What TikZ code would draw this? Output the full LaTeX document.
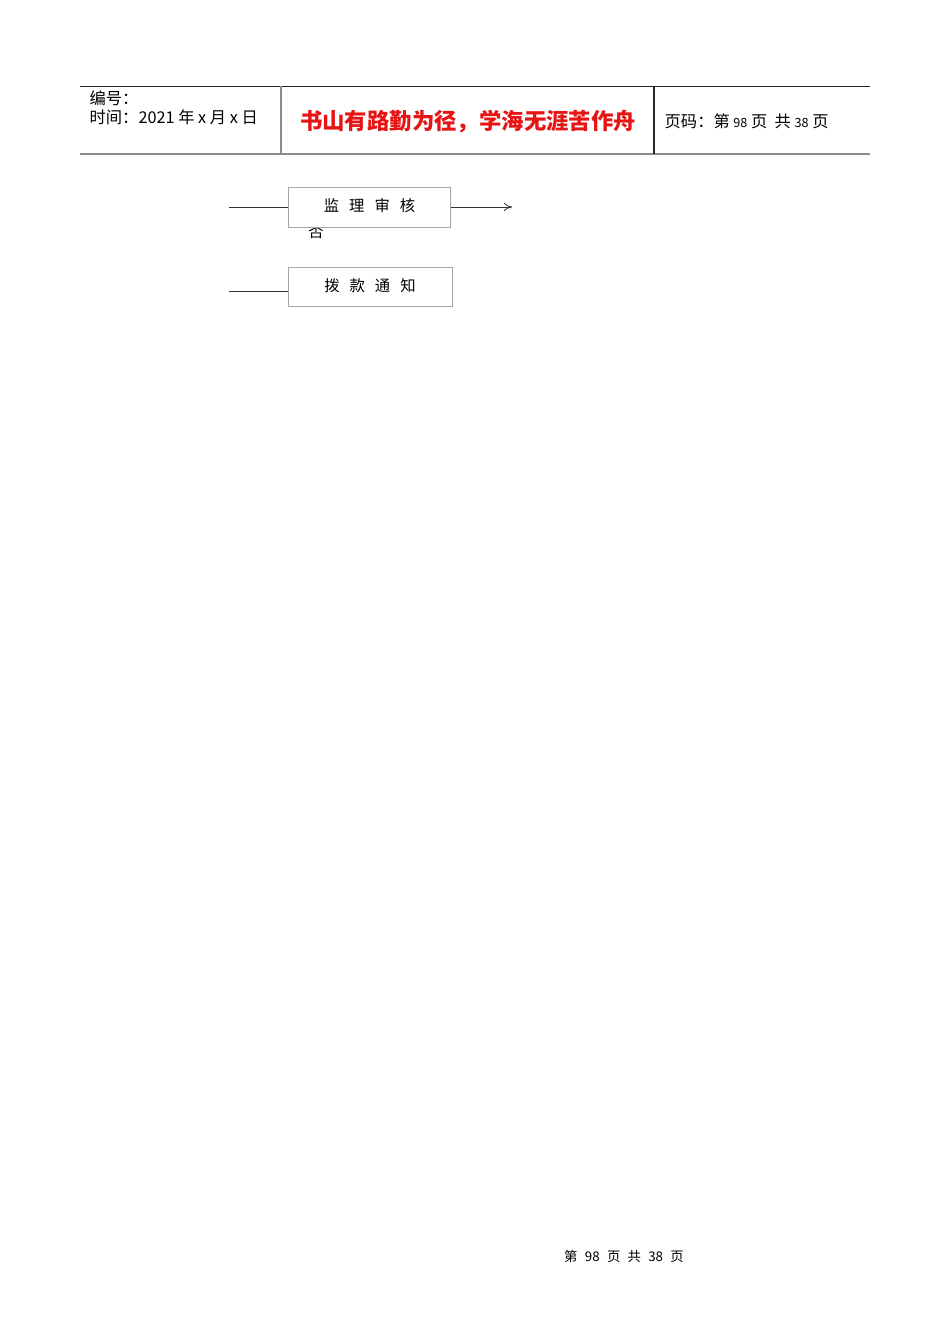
\documentclass[tikz,border=0pt]{standalone}
\usepackage{fontspec}
\setmainfont{Noto Sans CJK SC}
\newfontfamily\cjk{Noto Sans CJK SC}
\usetikzlibrary{arrows.meta}
\definecolor{titlered}{RGB}{230,20,20}
\tikzset{
  flowbox/.style={draw=black!35, fill=white, line width=0.6pt, minimum width=122pt, minimum height=29.5pt, inner sep=0pt, font=\cjk\fontsize{11.5}{12}\selectfont},
  flowline/.style={line width=0.6pt, color=black!80},
  rule/.style={line width=0.7pt, color=black!70}
}
\begin{document}
\begin{tikzpicture}[x=0.75pt, y=-0.75pt]
			%%%%% START %%%%%
			\useasboundingbox[fill=white] (0, 0) rectangle (950, 1344);
			
			% header table
			\draw[rule, color=black!85] (80, 86) -- (870, 86);
			\draw[line width=1.2pt, color=black!45] (80, 154) -- (870, 154);
			\draw[line width=1pt, color=black!45] (281, 86) -- (281, 154);
			\draw[line width=0.8pt, color=black!85] (654, 86) -- (654, 154);
			
			\node[anchor=west, font=\fontsize{12.2}{13}\selectfont] (bianhao) at (85, 98) {编号：};
			\node[anchor=west, font=\fontsize{12.2}{13}\selectfont] (shijian) at (85, 117) {时间：2021 年 x 月 x 日};
			\node[font=\fontsize{16.8}{18}\selectfont\bfseries, color=titlered] (biaoti) at (468, 122) {书山有路勤为径，学海无涯苦作舟};
			\node[anchor=west, font=\fontsize{12.2}{13}\selectfont] (yema) at (660, 121) {页码：第 {\fontsize{9.5}{10}\selectfont 98} 页\ \ 共 {\fontsize{9.5}{10}\selectfont 38} 页};
			
			% flow
			\node[font=\cjk\fontsize{11.5}{12}\selectfont] (fou) at (316, 232) {否};
			\node[flowbox] (shenhe) at (369.5, 207.5) {\raisebox{4pt}{监\hspace{7.5pt}理\hspace{7.5pt}审\hspace{7.5pt}核}};
			\node[flowbox, minimum width=123pt] (bokuan) at (370, 287) {\raisebox{3.5pt}{拨\hspace{7.5pt}款\hspace{7.5pt}通\hspace{7.5pt}知}};
			
			\coordinate (shenhein) at (229, 207);
			\coordinate (shenheout) at (512, 207);
			\coordinate (bokuanin) at (229, 291);
			
			\draw[flowline] (shenhein) -- (shenhe.west |- shenhein);
			\draw[flowline, -{To[length=6pt, width=6pt]}] (shenhe.east |- shenheout) -- (shenheout);
			\draw[flowline] (bokuanin) -- (bokuan.west |- bokuanin);
			
			% footer
			\node[font=\cjk\fontsize{10}{11}\selectfont] (yejiao) at (624, 1256) {第\hspace{5.5pt}98\hspace{5.5pt}页\hspace{5.5pt}共\hspace{5.5pt}38\hspace{5.5pt}页};
			%%%%% END %%%%%
		\end{tikzpicture}
\end{document}
